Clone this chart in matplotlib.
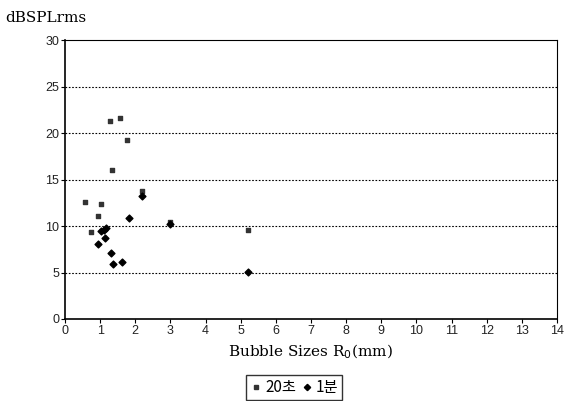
import matplotlib.pyplot as plt
from matplotlib.lines import Line2D

# ================================
# %% Data
# ++++++++++++++++++++++++++++++++

# 20 s series (square markers)
x_20s = [1.27, 1.57, 1.76, 1.33, 0.57, 1.02, 0.95, 2.20, 3.00, 5.20, 0.73]
y_20s = [21.3, 21.6, 19.3, 16.0, 12.6, 12.35, 11.1, 13.8, 10.4, 9.6, 9.4]

# 1 min series (diamond markers)
x_1m = [2.20, 1.81, 1.02, 1.10, 1.17, 1.14, 0.95, 1.31, 1.36, 1.62, 3.00, 5.22]
y_1m = [13.2, 10.9, 9.5, 9.6, 9.8, 8.7, 8.1, 7.05, 5.9, 6.15, 10.2, 5.1]

x_ticks = list(range(0, 15))
y_ticks = [0, 5, 10, 15, 20, 25, 30]

# ================================
# %% Plot
# ++++++++++++++++++++++++++++++++

fig = plt.figure(figsize=(5.66, 4.01), dpi=100)
ax = fig.add_axes([0.1148, 0.2045, 0.8692, 0.6955])

ax.scatter(x_20s, y_20s, marker="s", s=12, color="#333333", zorder=3)
ax.scatter(x_1m, y_1m, marker="D", s=12, color="black", zorder=3)

ax.set_xlim(0, 14)
ax.set_ylim(0, 30)
ax.set_xticks(x_ticks)
ax.set_yticks(y_ticks)
ax.tick_params(direction="out", length=3, width=0.8, labelsize=9, pad=1)
for lab in ax.get_xticklabels() + ax.get_yticklabels():
    lab.set_family("Liberation Sans")
    lab.set_color("#222222")

for y in y_ticks[1:-1]:
    ax.axhline(y, color="black", lw=0.8, ls=(0, (1.5, 1.5)), zorder=1)

for side in ["left", "bottom"]:
    ax.spines[side].set_linewidth(1.2)
for side in ["top", "right"]:
    ax.spines[side].set_linewidth(0.8)

fig.text(0.009, 0.955, "dBSPLrms", fontsize=11, family="DejaVu Serif",
         va="center", ha="left")
fig.text(0.548, 0.122, "Bubble Sizes R$_0$(mm)", fontsize=11,
         family="DejaVu Serif", va="center", ha="center")

handles = [
    Line2D([], [], marker="s", ls="none", ms=3.2, color="#333333"),
    Line2D([], [], marker="D", ls="none", ms=3.2, color="black"),
]
leg = fig.legend(handles, ["20초", "1분"], loc="center",
                 bbox_to_anchor=(0.52, 0.034), ncol=2, frameon=True,
                 fancybox=False, edgecolor="black", handlelength=0.8,
                 handletextpad=0.2, columnspacing=0.3, borderpad=0.25,
                 prop={"family": ["Noto Sans CJK KR", "DejaVu Sans"], "size": 11})
leg.get_frame().set_linewidth(1.0)

fig.savefig("out.png", dpi=100)
